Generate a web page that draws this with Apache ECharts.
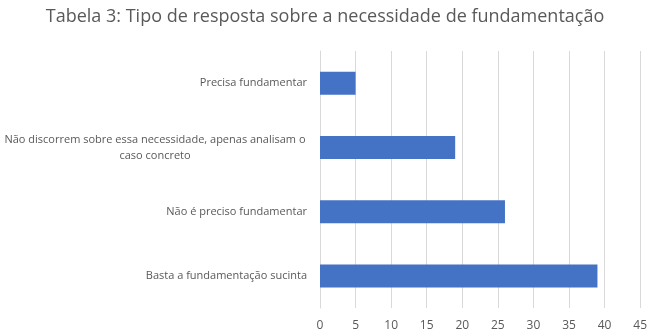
<!DOCTYPE html>
<html>
<head>
<meta charset="utf-8">
<script src="https://cdn.jsdelivr.net/npm/echarts@6/dist/echarts.min.js"></script>
<style>
  html, body { margin: 0; padding: 0; background: #fff; }
  #chart { width: 650px; height: 333px; }
</style>
</head>
<body>
<div id="chart"></div>
<script>
// categories from bottom to top (ECharts category axis on y goes upward)
const categories = [
  'Basta a fundamentação sucinta',
  'Não é preciso fundamentar',
  'Não discorrem sobre essa necessidade, apenas analisam o caso concreto',
  'Precisa fundamentar'
];
const values = [39, 26, 19, 5];
const xTicks = [0, 5, 10, 15, 20, 25, 30, 35, 40, 45];

const longLabel = categories[2];

const chart = echarts.init(document.getElementById('chart'));
const option = {
  animation: false,
  title: {
    text: 'Tabela 3: Tipo de resposta sobre a necessidade de fundamentação',
    left: 'center',
    top: 3,
    textStyle: { fontFamily: 'Open Sans', fontSize: 18, fontWeight: 'normal', color: '#595959' }
  },
  grid: { left: 319.5, right: 7, top: 51, bottom: 25 },
  xAxis: {
    type: 'value',
    min: xTicks[0],
    max: xTicks[xTicks.length - 1],
    interval: 5,
    axisLine: { show: false },
    axisTick: { show: false },
    splitLine: { lineStyle: { color: '#d9d9d9', width: 1 } },
    axisLabel: { color: '#595959', fontFamily: 'Open Sans', fontSize: 12, margin: 12 }
  },
  yAxis: {
    type: 'category',
    data: categories,
    axisLine: { show: true, lineStyle: { color: '#d9d9d9' } },
    axisTick: { show: false },
    axisLabel: {
      color: '#595959',
      fontFamily: 'Open Sans',
      fontSize: 11,
      margin: 13,
      formatter: function (v) {
        if (v === longLabel) {
          return '{c|Não discorrem sobre essa necessidade, apenas analisam o}\n{c|caso concreto}';
        }
        return v;
      },
      rich: {
        c: { width: 304, align: 'center', color: '#595959', fontFamily: 'Open Sans', fontSize: 11, lineHeight: 16 }
      }
    }
  },
  series: [{
    type: 'bar',
    data: values,
    barWidth: 23,
    itemStyle: { color: '#4472c4' }
  }]
};
chart.setOption(option);
</script>
</body>
</html>
